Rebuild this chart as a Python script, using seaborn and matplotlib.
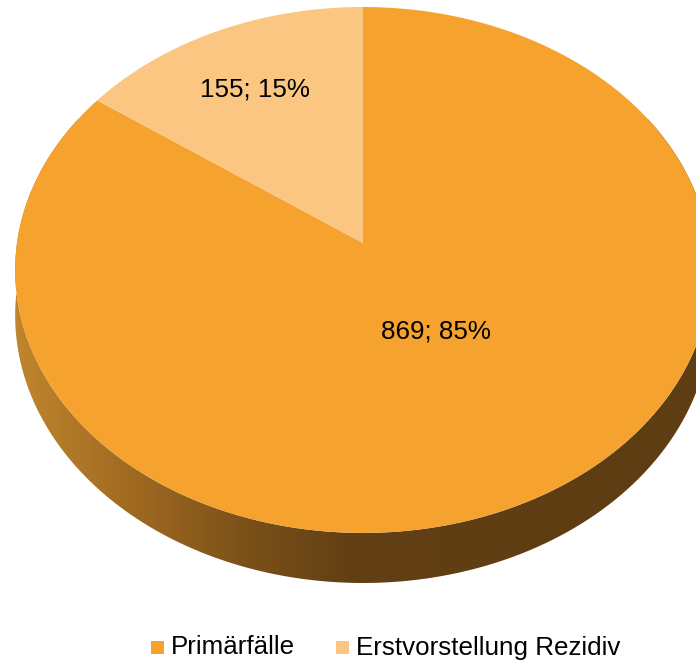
import numpy as np
import matplotlib
matplotlib.use("Agg")
import matplotlib.pyplot as plt
import seaborn as sns
from matplotlib.patches import Polygon, Rectangle
from matplotlib.colors import LinearSegmentedColormap

sns.set_theme(style="white")
plt.rcParams["font.family"] = ["Liberation Sans", "DejaVu Sans"]

# Data
categories = ["Primärfälle", "Erstvorstellung Rezidiv"]
counts = [869, 155]
percents = [85, 15]
colors = ["#F5A22E", "#FAC682"]

W, H = 696, 663
fig = plt.figure(figsize=(W / 100, H / 100), dpi=100)
ax = fig.add_axes([0, 0, 1, 1])
ax.set_xlim(0, W)
ax.set_ylim(H, 0)
ax.axis("off")

# Perspective projection of the pie disc
cx, cy = 363.0, 243.0      # centre of the disc (slice vertex)
A, B = 346.0, 260.2        # horizontal / vertical radius
c = 0.1026                 # perspective strength (far side smaller)
depth = 44.9               # thickness of the disc


def project(theta_deg, drop=0.0):
    t = np.radians(theta_deg)
    w = 1 + c * np.sin(t)
    x = cx + A * np.cos(t) / w
    y = cy - B * np.sin(t) / w + drop / w
    return x, y


# Side wall (front half of the cylinder) with horizontal shading
th = np.linspace(150, 390, 400)
tx, ty = project(th)
bx, by = project(th, depth)
side_pts = np.column_stack([np.r_[tx, bx[::-1]], np.r_[ty, by[::-1]]])
side = Polygon(side_pts, closed=True, facecolor="none", edgecolor="none")
ax.add_patch(side)
side_cmap = LinearSegmentedColormap.from_list(
    "side",
    [(0.0, "#C4892F"), (0.2, "#9E6821"), (0.36, "#7A5019"),
     (0.5, "#623F14"), (1.0, "#5E3D12")])
grad = np.linspace(0, 1, 512)[None, :]
img = ax.imshow(grad, cmap=side_cmap, extent=[0, W, H, 0], aspect="auto",
                zorder=1, interpolation="bilinear")
img.set_clip_path(side)

# Top face: wedges start at 12 o'clock and run clockwise
total = sum(counts)
start = 90.0
label_pos = [(436, 331), (255, 90)]
for i, (val, col) in enumerate(zip(counts, colors)):
    sweep = 360.0 * val / total
    # draw counter-clockwise from the end of this wedge
    a0 = start - sweep if i == 0 else start
    a1 = start if i == 0 else start + sweep
    angs = np.linspace(a0, a1, 300)
    px, py = project(angs)
    pts = np.column_stack([np.r_[cx, px], np.r_[cy, py]])
    ax.add_patch(Polygon(pts, closed=True, facecolor=col, edgecolor="none",
                         zorder=2, antialiased=True))

for (lx, ly), n, p in zip(label_pos, counts, percents):
    ax.text(lx, ly, f"{n}; {p}%", ha="center", va="center",
            fontsize=18.7, color="black", zorder=3)

# Legend
leg_items = [(151, categories[0], colors[0]), (336, categories[1], colors[1])]
for x0, lab, col in leg_items:
    ax.add_patch(Rectangle((x0, 641), 13, 13, facecolor=col, edgecolor="none"))
    ax.text(x0 + 20, 647.5, lab, ha="left", va="center", fontsize=18.7,
            color="black")

fig.savefig("out.png", dpi=100)
